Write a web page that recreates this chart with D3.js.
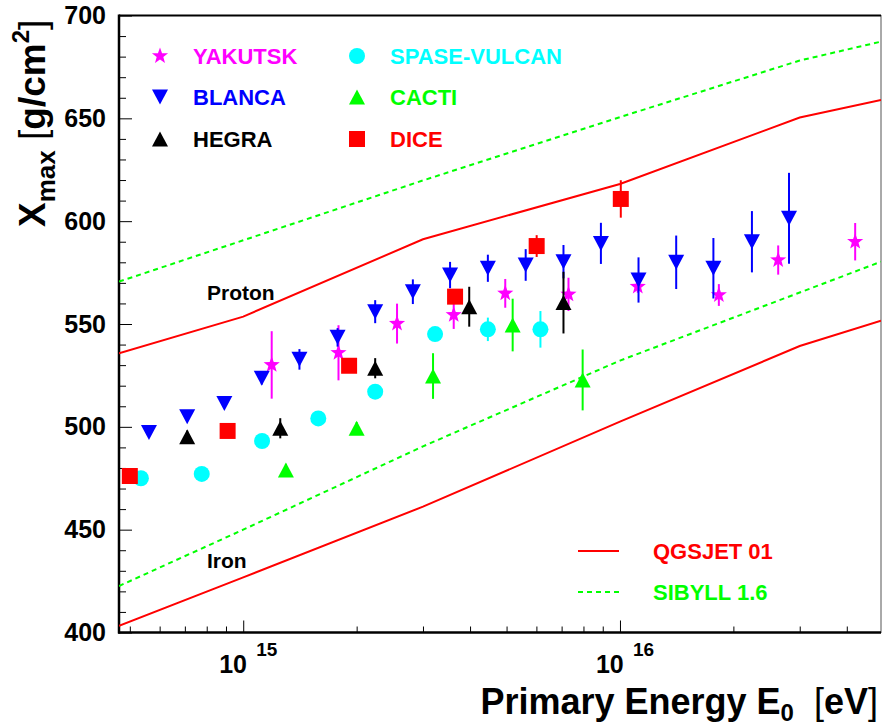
<!DOCTYPE html>
<meta charset="utf-8">
<script src="https://d3js.org/d3.v7.min.js"></script>
<body style="margin:0;background:#fff">
<svg width="882" height="727"></svg>
<script>
// ---- data ----
var yakutskE   = [1.19e15, 1.79e15, 2.56e15, 3.62e15, 4.96e15, 7.3e15, 1.115e16, 1.83e16, 2.63e16, 4.21e16];
var yakutskX   = [530.1, 536.0, 550.2, 554.4, 564.9, 564.4, 568.2, 564.1, 581.1, 590.0];
var yakutskErr = [16.4, 13.4, 9.7, 6.8, 7.0, 8.1, 3, 5.3, 7.1, 9.1];

var blancaE   = [5.62e14, 7.1e14, 8.91e14, 1.12e15, 1.41e15, 1.78e15, 2.24e15, 2.82e15, 3.54e15,
                 4.46e15, 5.62e15, 7.08e15, 8.9e15, 1.12e16, 1.41e16, 1.77e16, 2.24e16, 2.81e16];
var blancaX   = [497.3, 504.9, 511.4, 523.6, 532.8, 543.5, 556.0, 565.7, 573.8,
                 577.1, 578.7, 580.3, 589.2, 571.4, 580.0, 577.1, 590.0, 601.4];
var blancaErr = [2, 2, 2, 3, 5, 4.5, 5.6, 6, 6.4, 6.6, 7.7, 8.1, 10, 11, 13, 14.7, 14.9, 22.1];

var hegraE   = [7.1e14, 1.254e15, 2.24e15, 3.98e15, 7.08e15];
var hegraX   = [495.2, 499.3, 528.5, 558.4, 560.4];
var hegraErr = [3, 4.9, 4.9, 9.7, 15];

var spaseE   = [5.35e14, 7.76e14, 1.122e15, 1.582e15, 2.24e15, 3.23e15, 4.46e15, 6.15e15];
var spaseX   = [475.0, 477.1, 493.1, 504.1, 517.1, 545.1, 547.4, 547.4];
var spaseErr = [2, 2, 2, 2, 2, 3, 5.7, 8.9];

var cactiE   = [1.298e15, 2.0e15, 3.19e15, 5.19e15, 7.96e15];
var cactiX   = [479.0, 499.3, 524.7, 549.5, 522.8];
var cactiErr = [3, 3, 11.1, 12.8, 14.8];

var diceE   = [5.0e14, 9.09e14, 1.91e15, 3.65e15, 6.01e15, 1.005e16];
var diceX   = [476.1, 498.0, 529.7, 563.3, 587.9, 610.8];
var diceErr = [2, 2, 2, 3, 5.3, 9.1];

// model curves (proton / iron)
var modelE       = [4.68e14, 1e15, 3e15, 1e16, 3e16, 4.93e16];
var qgsjetProton = [535.7, 553.6, 591.2, 618.1, 650.4, 658.9];
var qgsjetIron   = [403.2, 426.8, 461.2, 502.5, 539.3, 551.6];
var sibyllProton = [570.6, 590.7, 619.8, 650.6, 678.1, 687.3];
var sibyllIron   = [422.6, 450.0, 490.5, 532.2, 565.3, 580.3];

var yMajorTicks = [400, 450, 500, 550, 600, 650, 700];
var xMajorTicks = [1e15, 1e16];
var xMajorExp   = ["15", "16"];

// ---- layout ----
var L = 119, R = 881, T = 15.5, B = 632.5;
var font = "'Liberation Sans', Arial, Helvetica, sans-serif";

var svg = d3.select('svg').style('font-family', font);

var x = d3.scaleLog().domain([4.68e14, 4.93e16]).range([L, R]);
var y = d3.scaleLinear().domain([400, 700]).range([B, T]);

svg.append('clipPath').attr('id', 'clip')
    .append('rect').attr('x', L).attr('y', T).attr('width', R - L).attr('height', B - T);

// frame
svg.append('rect').attr('x', L).attr('y', T).attr('width', R - L).attr('height', B - T)
    .attr('fill', 'none').attr('stroke', '#555').attr('stroke-width', 1);
svg.append('line').attr('x1', L).attr('x2', R).attr('y1', T).attr('y2', T)
    .attr('stroke', '#000').attr('stroke-width', 2);

// y axis
var yMinor = d3.range(400, 701, 10).filter(function (v) { return v % 50 !== 0; });
svg.append('g').attr('transform', 'translate(' + L + ',0)')
    .call(d3.axisLeft(y).tickValues(yMinor).tickSize(-7).tickSizeOuter(0).tickFormat(''))
    .call(function (g) { g.select('.domain').remove(); });
var yAx = svg.append('g').attr('transform', 'translate(' + L + ',0)')
    .call(d3.axisLeft(y).tickValues(yMajorTicks).tickSize(-13).tickSizeOuter(0).tickPadding(13));
yAx.select('.domain').remove();
yAx.selectAll('text').attr('font-size', 25).attr('font-weight', 'bold')
    .attr('font-family', font).attr('fill', '#000');
svg.selectAll('.tick line').attr('stroke', '#000').attr('stroke-width', 1);

// x axis
var xMinor = [];
[1e14, 1e15, 1e16].forEach(function (d) {
    for (var k = 2; k <= 9; k++) {
        var v = d * k;
        if (v > x.domain()[0] && v < x.domain()[1]) xMinor.push(v);
    }
});
svg.append('g').attr('transform', 'translate(0,' + B + ')')
    .call(d3.axisBottom(x).tickValues(xMinor).tickSize(-6).tickSizeOuter(0).tickFormat(''))
    .call(function (g) { g.select('.domain').remove(); g.selectAll('line').attr('stroke', '#000'); });
svg.append('g').attr('transform', 'translate(0,' + B + ')')
    .call(d3.axisBottom(x).tickValues(xMajorTicks).tickSize(-12).tickSizeOuter(0).tickFormat(''))
    .call(function (g) { g.select('.domain').remove(); g.selectAll('line').attr('stroke', '#000'); });

xMajorTicks.forEach(function (v, i) {
    var t = svg.append('text').attr('font-weight', 'bold').attr('fill', '#000');
    t.append('tspan').attr('x', x(v) - 24).attr('y', 673).attr('font-size', 25).text('10');
    t.append('tspan').attr('x', x(v) + 13).attr('y', 656).attr('font-size', 19).text(xMajorExp[i]);
});

// axis lines
svg.append('line').attr('x1', L).attr('x2', L).attr('y1', T - 1).attr('y2', B + 1)
    .attr('stroke', '#000').attr('stroke-width', 2.5);
svg.append('line').attr('x1', L - 1).attr('x2', R).attr('y1', B).attr('y2', B)
    .attr('stroke', '#000').attr('stroke-width', 2.5);

// axis titles
var xt = svg.append('text').attr('x', 878).attr('y', 714).attr('text-anchor', 'end')
    .attr('font-size', 36).attr('font-weight', 'bold').attr('fill', '#000');
xt.append('tspan').text('Primary Energy E');
xt.append('tspan').attr('font-size', 24).attr('dy', 7).text('0');
xt.append('tspan').attr('dy', -7).attr('font-weight', 'normal').text('\u00a0 [');
xt.append('tspan').text('eV');
xt.append('tspan').attr('font-weight', 'normal').text(']');

var yt = svg.append('text').attr('transform', 'translate(45,227) rotate(-90)')
    .attr('font-size', 37).attr('font-weight', 'bold').attr('fill', '#000');
yt.append('tspan').text('X');
yt.append('tspan').attr('font-size', 26).attr('dy', 10).text('max');
yt.append('tspan').attr('dy', -10).attr('font-weight', 'normal').text('\u00a0[');
yt.append('tspan').text('g/cm');
yt.append('tspan').attr('font-size', 24).attr('dy', -16).text('2');
yt.append('tspan').attr('dy', 16).attr('font-weight', 'normal').text(']');

// model curves
var line = d3.line().x(function (d) { return x(d[0]); }).y(function (d) { return y(d[1]); });
var models = [
    { v: qgsjetProton, color: '#ff0000', dash: null },
    { v: qgsjetIron,   color: '#ff0000', dash: null },
    { v: sibyllProton, color: '#00ff00', dash: '5,4' },
    { v: sibyllIron,   color: '#00ff00', dash: '5,4' }
];
var gm = svg.append('g').attr('clip-path', 'url(#clip)');
models.forEach(function (m) {
    gm.append('path')
        .datum(modelE.map(function (e, i) { return [e, m.v[i]]; }))
        .attr('d', line).attr('fill', 'none')
        .attr('stroke', m.color).attr('stroke-width', 2)
        .attr('stroke-dasharray', m.dash);
});

svg.append('text').attr('x', 207).attr('y', 300).attr('font-size', 21)
    .attr('font-weight', 'bold').text('Proton');
svg.append('text').attr('x', 207).attr('y', 568).attr('font-size', 21)
    .attr('font-weight', 'bold').text('Iron');

// marker shapes
function starPath(Ro, Ri) {
    var p = [];
    for (var i = 0; i < 10; i++) {
        var a = -Math.PI / 2 + i * Math.PI / 5, r = i % 2 ? Ri : Ro;
        p.push([r * Math.cos(a), r * Math.sin(a)]);
    }
    return 'M' + p.join('L') + 'Z';
}
var shapes = {
    star: starPath(8.5, 3.5),
    down: 'M0,7.5L8,-7.5L-8,-7.5Z',
    up: 'M0,-7.5L8,7.5L-8,7.5Z',
    circle: d3.symbol().type(d3.symbolCircle).size(Math.PI * 8 * 8)(),
    square: 'M-8,-8H8V8H-8Z'
};

var series = [
    { name: 'YAKUTSK',      e: yakutskE, v: yakutskX, err: yakutskErr, color: '#ff00ff', shape: 'star' },
    { name: 'BLANCA',       e: blancaE,  v: blancaX,  err: blancaErr,  color: '#0000ff', shape: 'down' },
    { name: 'HEGRA',        e: hegraE,   v: hegraX,   err: hegraErr,   color: '#000000', shape: 'up' },
    { name: 'SPASE-VULCAN', e: spaseE,   v: spaseX,   err: spaseErr,   color: '#00ffff', shape: 'circle' },
    { name: 'CACTI',        e: cactiE,   v: cactiX,   err: cactiErr,   color: '#00ff00', shape: 'up' },
    { name: 'DICE',         e: diceE,    v: diceX,    err: diceErr,    color: '#ff0000', shape: 'square' }
];

series.forEach(function (s) {
    var pts = s.e.map(function (e, i) { return { e: e, v: s.v[i], err: s.err[i] }; });
    var g = svg.append('g');
    g.selectAll('line').data(pts).enter().append('line')
        .attr('x1', function (d) { return x(d.e); })
        .attr('x2', function (d) { return x(d.e); })
        .attr('y1', function (d) { return y(d.v - d.err); })
        .attr('y2', function (d) { return y(d.v + d.err); })
        .attr('stroke', s.color).attr('stroke-width', 2);
    g.selectAll('path').data(pts).enter().append('path')
        .attr('d', shapes[s.shape])
        .attr('transform', function (d) { return 'translate(' + x(d.e) + ',' + y(d.v) + ')'; })
        .attr('fill', s.color);
});

// legend (data)
var legPos = [[160, 56], [160, 97], [160, 139], [357, 56], [357, 97], [357, 139]];
series.forEach(function (s, i) {
    var p = legPos[i];
    svg.append('path').attr('d', shapes[s.shape])
        .attr('transform', 'translate(' + p[0] + ',' + p[1] + ')').attr('fill', s.color);
    svg.append('text').attr('x', p[0] + 33).attr('y', p[1] + 8)
        .attr('font-size', 22).attr('font-weight', 'bold').attr('fill', s.color).text(s.name);
});

// legend (models)
var modelLegend = [
    { name: 'QGSJET 01', color: '#ff0000', dash: null, y: 551 },
    { name: 'SIBYLL 1.6', color: '#00ff00', dash: '5,4', y: 592 }
];
modelLegend.forEach(function (m) {
    svg.append('line').attr('x1', 578).attr('x2', 619).attr('y1', m.y).attr('y2', m.y)
        .attr('stroke', m.color).attr('stroke-width', 2).attr('stroke-dasharray', m.dash);
    svg.append('text').attr('x', 653).attr('y', m.y + 8)
        .attr('font-size', 22).attr('font-weight', 'bold').attr('fill', m.color).text(m.name);
});
</script>
</body>
